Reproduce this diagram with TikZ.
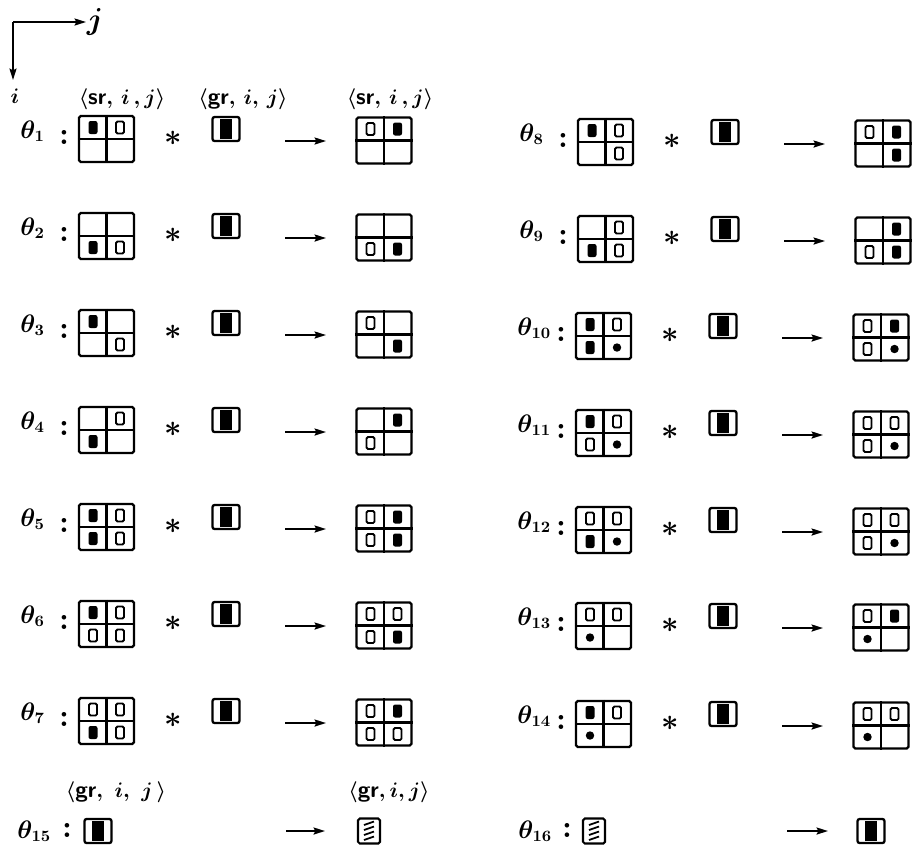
\documentclass[tikz,border=0pt]{standalone}
\usetikzlibrary{arrows.meta}

% glyphs inside a cell: F = filled bar, O = open bar, D = dot, N = nothing
\newcommand\glyphF[2]{\fill[rounded corners=1.2pt] (#1-4.5,#2-6.5) rectangle (#1+4.5,#2+6.5);}
\newcommand\glyphO[2]{\draw[line width=1.1pt,rounded corners=0.8pt] (#1-4,#2-6) rectangle (#1+4,#2+6);}
\newcommand\glyphD[2]{\fill (#1,#2) circle[radius=2.4pt];}
\newcommand\glyphN[2]{}
\newcommand\fourcells[3]{\parsecells{#1}{#2}#3\relax}
\def\parsecells#1#2#3/#4/#5/#6\relax{%
  \csname glyph#3\endcsname{#1}{#2}%
  \csname glyph#4\endcsname{#1+27}{#2}%
  \csname glyph#5\endcsname{#1}{#2+23}%
  \csname glyph#6\endcsname{#1+27}{#2+23}}

% gr glyph: framed box with a black centre
\newcommand\grglyph[3]{%
  \node[grbox] (#1) at (#2,#3) {};
  \fill (#2-6,#3-10) rectangle (#2+6,#3+10);}
% hatched gr glyph
\newcommand\hatchglyph[3]{%
  \node[hatchbox] (#1) at (#2,#3) {};
  \foreach \k in {0,1,2,3}{\draw[line width=1pt] (#2-5,#3-6+5*\k) -- (#2+5,#3-9.5+5*\k);}}

\newcommand\thetarow[5]{%
  \node[lbl, anchor=base west] (th#3) at (#1+20,#2+22) {$\theta_{#3}$};
  \node[colon] (co#3) at (#1+64,#2+21) {:};
  \node[gridbox] (in#3) at (#1+106.5,#2+23) {};
  \draw[gridline] (in#3.north) -- (in#3.south) (in#3.west) -- (in#3.east);
  \fourcells{#1+93}{#2+11.5}{#4}
  \node[starsym] (st#3) at (#1+173,#2+22) {$\ast$};
  \grglyph{gr#3}{#1+226}{#2+13}
  \coordinate (as#3) at (#1+285,#2+25);
  \coordinate (ae#3) at (#1+326,#2+25);
  \draw[arr] (as#3) -- (ae#3);
  \node[gridbox] (out#3) at (#1+384,#2+24.5) {};
  \draw[gridline] (out#3.north) -- (out#3.south) (out#3.west) -- (out#3.east);
  \fourcells{#1+370.5}{#2+13}{#5}
}

\begin{document}
\begin{tikzpicture}[x=0.02cm,y=-0.02cm,
  gridbox/.style={draw, line width=1.3pt, rounded corners=1pt, minimum width=1.1cm, minimum height=0.92cm, inner sep=0pt},
  gridline/.style={line width=1.2pt},
  grbox/.style={draw, line width=1.3pt, rounded corners=1.2pt, minimum width=0.54cm, minimum height=0.48cm, inner sep=0pt},
  hatchbox/.style={draw, line width=1.2pt, rounded corners=1pt, minimum width=0.44cm, minimum height=0.5cm, inner sep=0pt},
  lbl/.style={font=\fontsize{13.5}{16}\selectfont\boldmath, inner sep=0pt},
  hdr/.style={font=\fontsize{13}{15}\selectfont\boldmath, inner sep=0pt},
  colon/.style={font=\fontsize{18}{20}\selectfont\bfseries, inner sep=0pt},
  starsym/.style={font=\fontsize{17}{19}\selectfont\boldmath, inner sep=0pt},
  arr/.style={line width=1.1pt, -{Stealth[length=6.5pt,width=4pt,inset=1pt]}},
]
\useasboundingbox (0,0) rectangle (912,867);

% axes
\coordinate (o) at (13,22);
\coordinate (ox) at (86,22);
\coordinate (oy) at (13,80);
\draw[arr] (o) -- (ox);
\draw[arr] (o) -- (oy);
\node[font=\fontsize{17}{19}\selectfont\boldmath, inner sep=0pt] (jlab) at (95,22) {$j$};
\node[hdr] (ilab) at (15,96) {$i$};

% headers
\node[hdr] (h1) at (122,99) {$\langle$\textsf{\textbf{sr}}$,\,i\,,j\rangle$};
\node[hdr] (h2) at (243,99) {$\langle$\textsf{\textbf{gr}}$,\,i,\,j\rangle$};
\node[hdr] (h3) at (390,99) {$\langle$\textsf{\textbf{sr}}$,\,i\,,j\rangle$};

% left column
\thetarow{0}{116}{1}{F/O/N/N}{O/F/N/N}
\thetarow{0}{213}{2}{N/N/F/O}{N/N/O/F}
\thetarow{0}{310}{3}{F/N/N/O}{O/N/N/F}
\thetarow{0}{407}{4}{N/O/F/N}{N/F/O/N}
\thetarow{0}{504}{5}{F/O/F/O}{O/F/O/F}
\thetarow{0}{601}{6}{F/O/O/O}{O/O/O/F}
\thetarow{0}{698}{7}{O/O/F/O}{O/F/O/O}
% right column
\thetarow{499}{119}{8}{F/O/N/O}{O/F/N/F}
\thetarow{499}{216}{9}{N/O/F/O}{N/F/O/F}
\thetarow{497}{313}{10}{F/O/F/D}{O/F/O/D}
\thetarow{497}{410}{11}{F/O/O/D}{O/O/O/D}
\thetarow{497}{507}{12}{O/O/F/D}{O/O/O/D}
\thetarow{497}{603}{13}{O/O/D/N}{O/F/D/N}
\thetarow{497}{701}{14}{F/O/D/N}{O/O/D/N}

% bottom row
\node[hdr] (b1) at (116,792) {$\langle$\textsf{\textbf{gr}}$,\ i,\ j\,\rangle$};
\node[hdr] (b2) at (389,792) {$\langle$\textsf{\textbf{gr}}$,i,j\rangle$};
\node[lbl, anchor=base west] (th15) at (17,838) {$\theta_{15}$};
\node[colon] (co15) at (67,830) {:};
\grglyph{gr15}{98}{831}
\coordinate (as15) at (286,831);
\coordinate (ae15) at (325,831);
\draw[arr] (as15) -- (ae15);
\hatchglyph{hb15}{369}{831}

\node[lbl, anchor=base west] (th16) at (518,838) {$\theta_{16}$};
\node[colon] (co16) at (567,830) {:};
\hatchglyph{hb16}{594}{831}
\coordinate (as16) at (787,831);
\coordinate (ae16) at (828,831);
\draw[arr] (as16) -- (ae16);
\grglyph{gr16}{871}{831}
\end{tikzpicture}
\end{document}
